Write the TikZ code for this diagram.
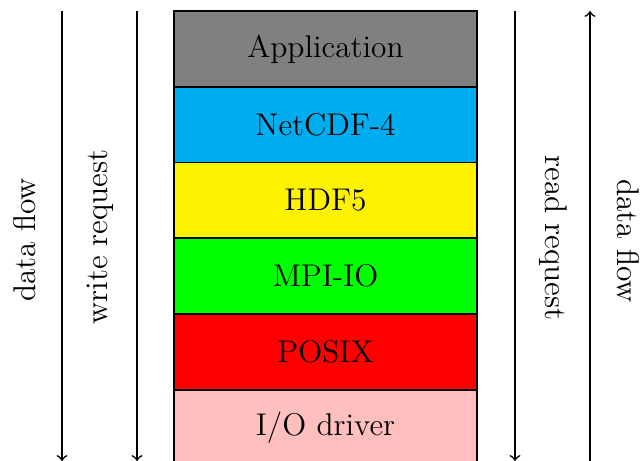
\documentclass[tikz,border=0pt]{standalone}
\usetikzlibrary{positioning}

\def\layerwidth{4cm}
\def\layerheight{1cm}

\begin{document}
\begin{tikzpicture}[x=0.0132cm,y=-0.0132cm,semithick,font=\fontsize{11.8}{14}\selectfont]
		\tikzstyle{layer}=[draw=black,minimum width=\layerwidth,minimum height=\layerheight,inner sep=0pt,outer sep=0pt,anchor=north]
		\tikzstyle{flow}=[->]
		\tikzstyle{annot up}=[rotate=90]
		\tikzstyle{annot down}=[rotate=-90]
		
		\useasboundingbox (0,0) rectangle (640,461);
		
		% Draw the stack of layers
		\node[layer, fill=gray] (L-1) at (325.5,11) {Application};
		\node[layer, fill=cyan, below=0pt of L-1] (L-2) {NetCDF-4};
		\node[layer, fill=yellow, below=0pt of L-2] (L-3) {HDF5};
		\node[layer, fill=green, below=0pt of L-3] (L-4) {MPI-IO};
		\node[layer, fill=red, below=0pt of L-4] (L-5) {POSIX};
		\node[layer, fill=red!25, below=0pt of L-5] (L-6) {I/O driver};
		
		% End points of the arrows
		\foreach \name / \x in {1/62,2/137,3/515,4/590} {
			\coordinate (T-\name) at (\x,11);
			\coordinate (B-\name) at (\x,461);
		}
		
		% Draw the arrows
		\draw[flow] (T-1) -- (B-1);
		\draw[flow] (T-2) -- (B-2);
		\draw[flow] (T-3) -- (B-3);
		\draw[flow] (B-4) -- (T-4);
		
		% Annotate the arrows
		\node[annot up] (dl) at (25,240) {data flow};
		\node[annot up] (wr) at (100,237) {write request};
		\node[annot down] (rr) at (553,238) {read request};
		\node[annot down] (dr) at (628,241) {data flow};
	\end{tikzpicture}
\end{document}
